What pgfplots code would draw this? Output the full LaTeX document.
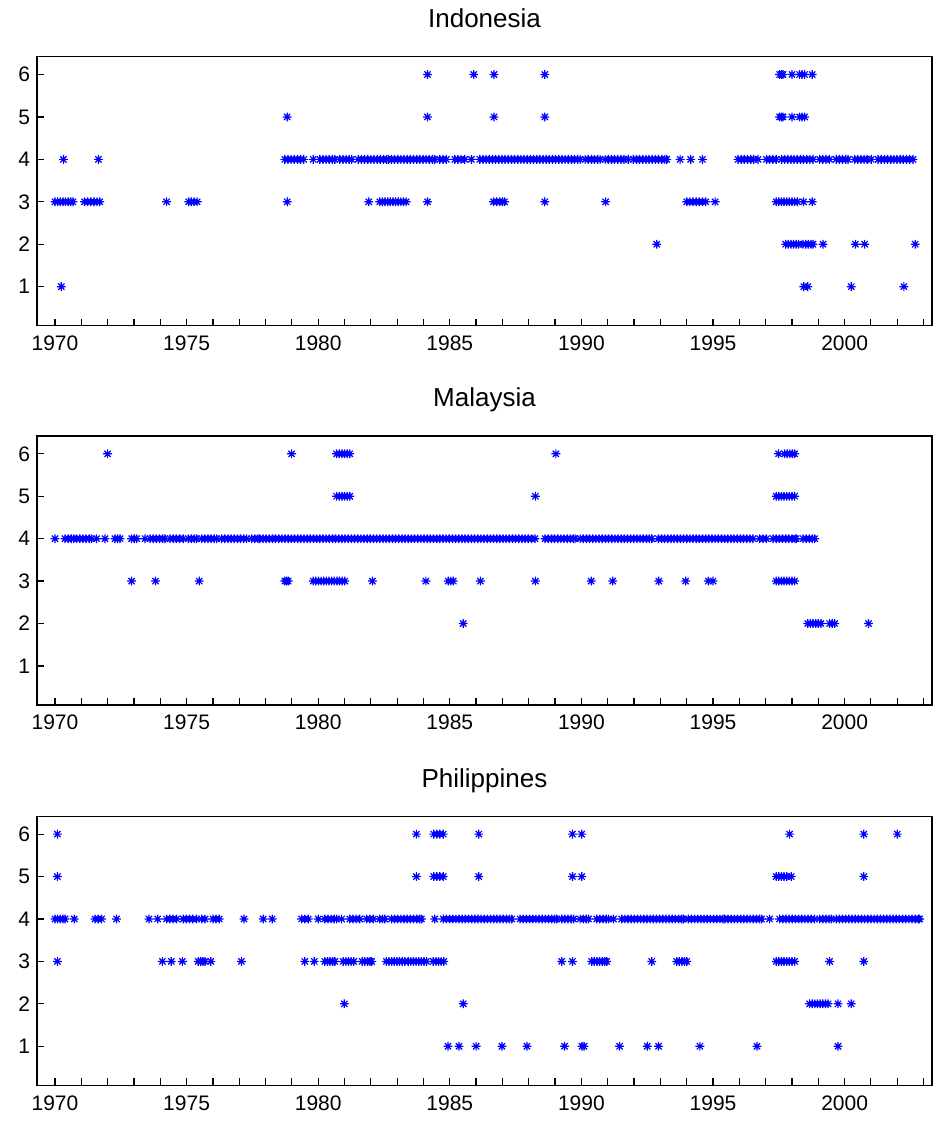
\documentclass[border=0pt]{standalone}
\usepackage{pgfplots}
\pgfplotsset{compat=1.18}
\usepackage{fontspec}
\setmainfont{Liberation Sans}
\pgfdeclareplotmark{star8}{%
  \pgfpathmoveto{\pgfqpoint{0pt}{\pgfplotmarksize}}\pgfpathlineto{\pgfqpoint{0pt}{-\pgfplotmarksize}}%
  \pgfpathmoveto{\pgfqpoint{\pgfplotmarksize}{0pt}}\pgfpathlineto{\pgfqpoint{-\pgfplotmarksize}{0pt}}%
  \pgfpathmoveto{\pgfqpoint{.7071\pgfplotmarksize}{.7071\pgfplotmarksize}}\pgfpathlineto{\pgfqpoint{-.7071\pgfplotmarksize}{-.7071\pgfplotmarksize}}%
  \pgfpathmoveto{\pgfqpoint{.7071\pgfplotmarksize}{-.7071\pgfplotmarksize}}\pgfpathlineto{\pgfqpoint{-.7071\pgfplotmarksize}{.7071\pgfplotmarksize}}%
  \pgfusepathqstroke}
\pgfplotsset{
  panel/.style={
    width=447.5pt, height=134.5pt, scale only axis,
    xmin=1969.316, xmax=2003.32, ymin=0.08, ymax=6.42,
    xtick={1970,1975,...,2000}, minor xtick={1971,...,2003},
    ytick={1,...,6},
    tick align=inside, xtick pos=bottom, ytick pos=left,
    major tick length=3.5pt, minor tick length=3.5pt,
    every tick/.style={black, line width=0.6pt},
    axis line style={line width=0.6pt},
    /pgf/number format/1000 sep={},
    /pgf/number format/assume math mode=true,
    tick label style={font=\fontsize{10.5}{12}\selectfont},
    xticklabel style={yshift=-1.5pt},
    title style={font=\fontsize{13}{15}\selectfont, at={(0.5,1)}, anchor=base, yshift=8.5pt},
    only marks, clip=false,
  },
  pts/.style={blue, mark=star8, mark size=2.2pt, mark options={line width=0.6pt, blue}},
}
\begin{document}
\begin{tikzpicture}
\useasboundingbox (0,0) rectangle (466.5pt,561pt);
% ---------------- Indonesia
\begin{axis}[panel, at={(18.5pt,398.15pt)}, anchor=south west, title={Indonesia}]
\addplot[pts] coordinates {
(1970.24,1)(1998.45,1)(1998.60,1)(2000.25,1)(2002.25,1)
(1992.86,2)(1997.76,2)(1997.86,2)(1997.96,2)(1998.06,2)(1998.16,2)(1998.25,2)(1998.42,2)(1998.52,2)(1998.62,2)(1998.72,2)(1998.80,2)(1999.18,2)(2000.41,2)(2000.76,2)(2002.68,2)
(1970.00,3)(1970.10,3)(1970.20,3)(1970.30,3)(1970.40,3)(1970.50,3)(1970.60,3)(1970.68,3)
(1971.12,3)(1971.24,3)(1971.36,3)(1971.48,3)(1971.60,3)(1971.70,3)
(1974.24,3)(1975.08,3)(1975.18,3)(1975.28,3)(1975.40,3)(1978.82,3)(1981.92,3)
(1982.34,3)(1982.44,3)(1982.54,3)(1982.64,3)(1982.74,3)(1982.84,3)(1982.94,3)(1983.04,3)(1983.14,3)(1983.24,3)(1983.34,3)
(1984.15,3)(1986.66,3)(1986.78,3)(1986.90,3)(1987.00,3)(1987.08,3)(1988.61,3)(1990.92,3)
(1994.00,3)(1994.12,3)(1994.24,3)(1994.36,3)(1994.48,3)(1994.60,3)(1994.72,3)(1995.08,3)
(1997.40,3)(1997.50,3)(1997.60,3)(1997.70,3)(1997.80,3)(1997.90,3)(1998.00,3)(1998.10,3)(1998.20,3)(1998.44,3)(1998.77,3)
(1970.32,4)(1971.65,4)
(1978.73,4)(1978.85,4)(1978.97,4)(1979.09,4)(1979.21,4)(1979.33,4)(1979.45,4)(1979.81,4)
(1980.06,4)(1980.18,4)(1980.30,4)(1980.42,4)(1980.54,4)(1980.63,4)
(1980.82,4)(1980.94,4)(1981.06,4)(1981.18,4)(1981.27,4)
(1981.52,4)(1981.64,4)(1981.76,4)(1981.88,4)(1982.00,4)(1982.12,4)(1982.24,4)(1982.36,4)(1982.48,4)(1982.60,4)(1982.66,4)
(1982.78,4)(1982.90,4)(1983.02,4)(1983.14,4)(1983.26,4)(1983.38,4)(1983.50,4)(1983.62,4)(1983.74,4)(1983.86,4)(1983.98,4)(1984.10,4)(1984.22,4)(1984.34,4)(1984.43,4)
(1984.62,4)(1984.74,4)(1984.87,4)(1985.19,4)(1985.31,4)(1985.43,4)(1985.57,4)(1985.82,4)
(1986.14,4)(1986.26,4)(1986.38,4)(1986.50,4)(1986.62,4)(1986.74,4)(1986.86,4)(1986.98,4)(1987.10,4)(1987.22,4)(1987.34,4)(1987.46,4)(1987.58,4)(1987.70,4)(1987.82,4)(1987.94,4)(1988.06,4)(1988.18,4)(1988.30,4)(1988.42,4)(1988.54,4)(1988.66,4)(1988.78,4)(1988.90,4)(1989.02,4)(1989.14,4)(1989.26,4)(1989.38,4)(1989.50,4)(1989.62,4)(1989.74,4)(1989.86,4)(1989.95,4)
(1990.14,4)(1990.26,4)(1990.38,4)(1990.50,4)(1990.62,4)(1990.71,4)
(1990.90,4)(1991.02,4)(1991.14,4)(1991.26,4)(1991.38,4)(1991.50,4)(1991.62,4)(1991.78,4)
(1991.97,4)(1992.09,4)(1992.21,4)(1992.33,4)(1992.45,4)(1992.57,4)(1992.69,4)(1992.81,4)(1992.93,4)(1993.05,4)(1993.17,4)(1993.24,4)
(1993.75,4)(1994.15,4)(1994.60,4)
(1995.95,4)(1996.07,4)(1996.19,4)(1996.31,4)(1996.43,4)(1996.55,4)(1996.71,4)
(1997.03,4)(1997.15,4)(1997.27,4)(1997.40,4)
(1997.60,4)(1997.72,4)(1997.84,4)(1997.96,4)(1998.08,4)(1998.20,4)(1998.32,4)(1998.44,4)(1998.56,4)(1998.68,4)(1998.80,4)
(1999.05,4)(1999.17,4)(1999.29,4)(1999.43,4)
(1999.68,4)(1999.80,4)(1999.92,4)(2000.04,4)(2000.13,4)
(2000.38,4)(2000.50,4)(2000.62,4)(2000.74,4)(2000.86,4)(2001.01,4)
(2001.27,4)(2001.39,4)(2001.51,4)(2001.63,4)(2001.75,4)(2001.87,4)(2001.99,4)(2002.11,4)(2002.23,4)(2002.35,4)(2002.47,4)(2002.60,4)
(1978.82,5)(1984.15,5)(1986.68,5)(1988.61,5)(1997.53,5)(1997.60,5)(1997.66,5)(1998.00,5)(1998.29,5)(1998.38,5)(1998.48,5)
(1984.15,6)(1985.91,6)(1986.68,6)(1988.61,6)(1997.53,6)(1997.60,6)(1997.66,6)(1998.00,6)(1998.29,6)(1998.38,6)(1998.48,6)(1998.77,6)
};
\end{axis}
% ---------------- Malaysia
\begin{axis}[panel, at={(18.5pt,208.5pt)}, anchor=south west, title={Malaysia}]
\addplot[pts] coordinates {
(1985.51,2)(1998.60,2)(1998.70,2)(1998.80,2)(1998.90,2)(1999.00,2)(1999.10,2)(1999.43,2)(1999.53,2)(1999.62,2)(2000.91,2)
(1972.91,3)(1973.82,3)(1975.48,3)(1978.73,3)(1978.80,3)(1978.86,3)
(1979.81,3)(1979.91,3)(1980.01,3)(1980.11,3)(1980.21,3)(1980.31,3)(1980.41,3)(1980.51,3)(1980.61,3)(1980.71,3)(1980.81,3)(1980.91,3)(1981.01,3)
(1982.06,3)(1984.09,3)(1984.94,3)(1985.04,3)(1985.13,3)(1986.16,3)(1988.25,3)(1990.37,3)(1991.19,3)(1992.94,3)(1993.96,3)(1994.82,3)(1995.00,3)
(1997.40,3)(1997.50,3)(1997.60,3)(1997.70,3)(1997.80,3)(1997.90,3)(1998.00,3)(1998.10,3)
(1970.00,4)(1970.38,4)(1970.50,4)(1970.62,4)(1970.70,4)
(1970.82,4)(1970.94,4)(1971.06,4)(1971.18,4)(1971.30,4)(1971.39,4)(1971.58,4)(1971.90,4)
(1972.28,4)(1972.38,4)(1972.47,4)(1972.91,4)(1973.01,4)(1973.10,4)(1973.42,4)
(1973.61,4)(1973.73,4)(1973.85,4)(1973.97,4)(1974.09,4)(1974.18,4)
(1974.37,4)(1974.49,4)(1974.61,4)(1974.73,4)(1974.87,4)(1975.06,4)(1975.18,4)(1975.30,4)(1975.38,4)
(1975.57,4)(1975.69,4)(1975.81,4)(1975.93,4)(1976.05,4)(1976.14,4)
(1976.33,4)(1976.45,4)(1976.57,4)(1976.69,4)(1976.81,4)(1976.93,4)(1977.05,4)(1977.17,4)(1977.28,4)
(1977.47,4)(1977.59,4)(1977.71,4)(1977.78,4)
(1977.90,4)(1978.02,4)(1978.14,4)(1978.26,4)(1978.38,4)(1978.50,4)(1978.62,4)(1978.74,4)(1978.86,4)(1978.98,4)(1979.10,4)(1979.22,4)(1979.34,4)(1979.46,4)(1979.58,4)(1979.70,4)(1979.82,4)(1979.94,4)
(1980.06,4)(1980.18,4)(1980.30,4)(1980.42,4)(1980.54,4)(1980.66,4)(1980.78,4)(1980.90,4)(1981.02,4)(1981.14,4)(1981.26,4)(1981.38,4)(1981.50,4)(1981.62,4)(1981.74,4)(1981.86,4)(1981.98,4)
(1982.10,4)(1982.22,4)(1982.34,4)(1982.46,4)(1982.58,4)(1982.70,4)(1982.82,4)(1982.94,4)(1983.06,4)(1983.18,4)(1983.30,4)(1983.42,4)(1983.54,4)(1983.66,4)(1983.78,4)(1983.90,4)
(1984.02,4)(1984.14,4)(1984.26,4)(1984.38,4)(1984.50,4)(1984.62,4)(1984.74,4)(1984.86,4)(1984.98,4)(1985.10,4)(1985.22,4)(1985.34,4)(1985.46,4)(1985.58,4)(1985.70,4)(1985.82,4)(1985.94,4)
(1986.06,4)(1986.18,4)(1986.30,4)(1986.42,4)(1986.54,4)(1986.66,4)(1986.78,4)(1986.90,4)(1987.02,4)(1987.14,4)(1987.26,4)(1987.38,4)(1987.50,4)(1987.62,4)(1987.74,4)(1987.86,4)(1987.98,4)(1988.10,4)(1988.24,4)
(1988.62,4)(1988.74,4)(1988.86,4)(1988.98,4)(1989.10,4)(1989.22,4)(1989.34,4)(1989.46,4)(1989.58,4)(1989.70,4)(1989.76,4)
(1989.95,4)(1990.07,4)(1990.19,4)(1990.31,4)(1990.43,4)(1990.55,4)(1990.67,4)(1990.79,4)(1990.91,4)(1991.03,4)(1991.15,4)(1991.27,4)(1991.39,4)(1991.51,4)(1991.63,4)(1991.75,4)(1991.87,4)(1991.99,4)(1992.11,4)(1992.23,4)(1992.35,4)(1992.47,4)(1992.59,4)(1992.67,4)
(1992.92,4)(1993.04,4)(1993.16,4)(1993.28,4)(1993.40,4)(1993.52,4)(1993.64,4)(1993.76,4)(1993.88,4)(1994.00,4)(1994.12,4)(1994.24,4)(1994.36,4)(1994.48,4)(1994.60,4)(1994.72,4)(1994.84,4)(1994.96,4)
(1995.08,4)(1995.20,4)(1995.32,4)(1995.44,4)(1995.56,4)(1995.68,4)(1995.80,4)(1995.92,4)(1996.04,4)(1996.16,4)(1996.28,4)(1996.40,4)(1996.52,4)
(1996.77,4)(1996.90,4)(1997.03,4)
(1997.28,4)(1997.40,4)(1997.52,4)(1997.64,4)(1997.76,4)(1997.88,4)(1998.00,4)(1998.12,4)(1998.16,4)
(1998.42,4)(1998.54,4)(1998.66,4)(1998.78,4)(1998.86,4)
(1980.70,5)(1980.80,5)(1980.90,5)(1981.00,5)(1981.10,5)(1981.20,5)(1988.25,5)
(1997.40,5)(1997.50,5)(1997.60,5)(1997.70,5)(1997.80,5)(1997.90,5)(1998.00,5)(1998.10,5)
(1972.00,6)(1978.99,6)(1980.70,6)(1980.80,6)(1980.90,6)(1981.00,6)(1981.10,6)(1981.20,6)(1989.03,6)
(1997.49,6)(1997.72,6)(1997.82,6)(1997.92,6)(1998.02,6)(1998.10,6)
};
\end{axis}
% ---------------- Philippines
\begin{axis}[panel, at={(18.5pt,18.35pt)}, anchor=south west, title={Philippines}]
\addplot[pts] coordinates {
(1984.93,1)(1985.35,1)(1986.00,1)(1986.98,1)(1987.93,1)(1989.36,1)(1990.02,1)(1990.10,1)(1991.45,1)(1992.50,1)(1992.93,1)(1994.50,1)(1996.67,1)(1999.75,1)
(1980.99,2)(1985.51,2)(1998.67,2)(1998.77,2)(1998.87,2)(1998.97,2)(1999.07,2)(1999.17,2)(1999.27,2)(1999.37,2)(1999.75,2)(2000.25,2)
(1970.09,3)(1974.08,3)(1974.42,3)(1974.84,3)(1975.44,3)(1975.54,3)(1975.62,3)(1975.70,3)(1975.92,3)(1977.08,3)(1979.49,3)(1979.85,3)
(1980.25,3)(1980.35,3)(1980.45,3)(1980.55,3)(1980.63,3)(1980.95,3)(1981.05,3)(1981.15,3)(1981.25,3)(1981.35,3)
(1981.67,3)(1981.77,3)(1981.87,3)(1981.97,3)(1982.03,3)
(1982.59,3)(1982.69,3)(1982.79,3)(1982.89,3)(1982.99,3)(1983.09,3)(1983.19,3)(1983.29,3)
(1983.42,3)(1983.52,3)(1983.62,3)(1983.72,3)(1983.82,3)(1983.92,3)(1984.02,3)(1984.11,3)
(1984.37,3)(1984.47,3)(1984.57,3)(1984.67,3)(1984.77,3)
(1989.25,3)(1989.66,3)(1990.39,3)(1990.49,3)(1990.59,3)(1990.69,3)(1990.79,3)(1990.89,3)(1990.96,3)(1992.67,3)
(1993.62,3)(1993.72,3)(1993.82,3)(1993.92,3)(1994.00,3)
(1997.40,3)(1997.50,3)(1997.60,3)(1997.70,3)(1997.80,3)(1997.90,3)(1998.00,3)(1998.10,3)(1999.43,3)(2000.73,3)
(1970.00,4)(1970.10,4)(1970.20,4)(1970.30,4)(1970.38,4)(1970.73,4)(1971.52,4)(1971.64,4)(1971.77,4)(1972.34,4)(1973.57,4)(1973.90,4)
(1974.24,4)(1974.36,4)(1974.48,4)(1974.62,4)(1974.87,4)(1974.99,4)(1975.11,4)(1975.23,4)(1975.38,4)(1975.57,4)(1975.70,4)
(1976.00,4)(1976.12,4)(1976.24,4)(1977.18,4)(1977.91,4)(1978.25,4)(1979.37,4)(1979.49,4)(1979.62,4)(1980.00,4)
(1980.25,4)(1980.37,4)(1980.49,4)(1980.61,4)(1980.70,4)(1980.89,4)(1981.20,4)(1981.32,4)(1981.44,4)(1981.58,4)
(1981.84,4)(1981.96,4)(1982.09,4)(1982.34,4)(1982.44,4)(1982.53,4)
(1982.78,4)(1982.90,4)(1983.02,4)(1983.14,4)(1983.26,4)(1983.38,4)(1983.50,4)(1983.62,4)(1983.74,4)(1983.86,4)(1983.92,4)(1984.43,4)
(1984.75,4)(1984.87,4)(1984.99,4)(1985.11,4)(1985.23,4)(1985.35,4)(1985.47,4)(1985.59,4)(1985.71,4)(1985.83,4)(1985.95,4)(1986.07,4)(1986.19,4)(1986.31,4)(1986.43,4)(1986.55,4)(1986.67,4)(1986.79,4)(1986.91,4)(1987.03,4)(1987.15,4)(1987.27,4)(1987.35,4)
(1987.67,4)(1987.79,4)(1987.91,4)(1988.03,4)(1988.15,4)(1988.27,4)(1988.39,4)(1988.51,4)(1988.63,4)(1988.75,4)(1988.87,4)(1988.99,4)(1989.06,4)
(1989.25,4)(1989.37,4)(1989.49,4)(1989.61,4)(1989.70,4)(1989.95,4)(1990.08,4)(1990.18,4)(1990.27,4)
(1990.58,4)(1990.70,4)(1990.82,4)(1990.94,4)(1991.03,4)(1991.22,4)
(1991.53,4)(1991.65,4)(1991.77,4)(1991.89,4)(1992.01,4)(1992.13,4)(1992.25,4)(1992.37,4)(1992.49,4)(1992.61,4)(1992.73,4)(1992.85,4)(1992.97,4)(1993.09,4)(1993.21,4)(1993.33,4)(1993.45,4)(1993.57,4)(1993.69,4)(1993.81,4)(1993.87,4)
(1994.06,4)(1994.18,4)(1994.30,4)(1994.42,4)(1994.54,4)(1994.66,4)(1994.78,4)(1994.90,4)(1995.02,4)(1995.14,4)(1995.26,4)(1995.38,4)(1995.44,4)
(1995.57,4)(1995.69,4)(1995.81,4)(1995.93,4)(1996.05,4)(1996.17,4)(1996.29,4)(1996.41,4)(1996.53,4)(1996.65,4)(1996.77,4)(1996.84,4)(1997.15,4)
(1997.53,4)(1997.65,4)(1997.77,4)(1997.89,4)(1998.01,4)(1998.13,4)(1998.25,4)(1998.37,4)(1998.49,4)(1998.61,4)(1998.73,4)(1998.86,4)
(1999.05,4)(1999.17,4)(1999.29,4)(1999.41,4)(1999.49,4)
(1999.68,4)(1999.80,4)(1999.92,4)(2000.04,4)(2000.16,4)(2000.28,4)(2000.40,4)(2000.52,4)(2000.64,4)(2000.76,4)(2000.88,4)(2001.00,4)(2001.12,4)(2001.24,4)
(2001.36,4)(2001.48,4)(2001.60,4)(2001.72,4)(2001.84,4)(2001.96,4)(2002.08,4)(2002.20,4)(2002.32,4)(2002.44,4)(2002.56,4)(2002.68,4)(2002.80,4)(2002.85,4)
(1970.09,5)(1983.73,5)(1984.39,5)(1984.50,5)(1984.62,5)(1984.75,5)(1986.10,5)(1989.66,5)(1990.01,5)
(1997.40,5)(1997.50,5)(1997.60,5)(1997.70,5)(1997.80,5)(1997.97,5)(2000.73,5)
(1970.09,6)(1983.73,6)(1984.39,6)(1984.50,6)(1984.62,6)(1984.75,6)(1986.10,6)(1989.66,6)(1990.01,6)(1997.91,6)(2000.73,6)(2002.00,6)
};
\end{axis}
\end{tikzpicture}
\end{document}
